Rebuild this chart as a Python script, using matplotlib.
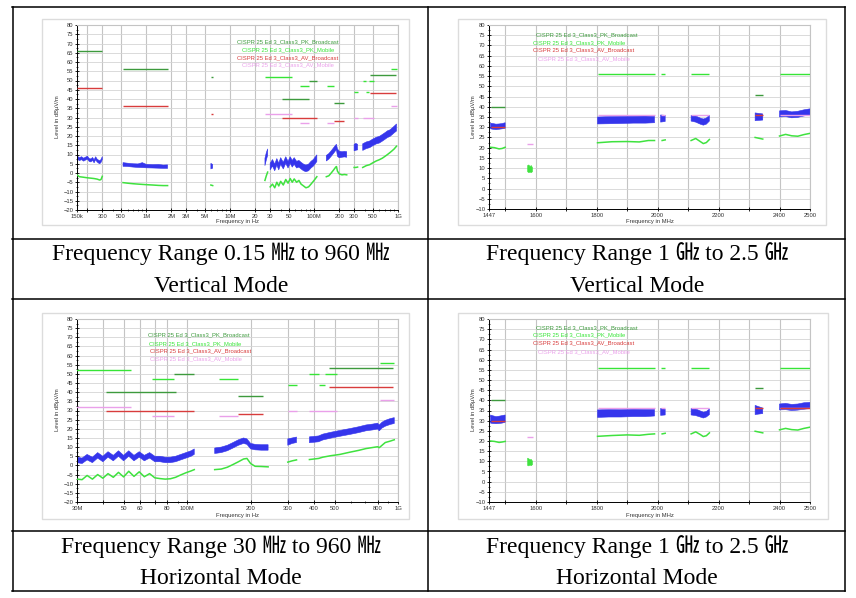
import numpy as np
import matplotlib
matplotlib.use('Agg')
from matplotlib import pyplot as plt
from matplotlib.patches import Rectangle
from matplotlib.lines import Line2D
from matplotlib.ticker import FixedLocator, NullFormatter, MultipleLocator

nan = np.nan

# ---- limit lines, 0.15 MHz - 1 GHz (MHz, dBuV/m)
lo_pkb_start = [0.15, 0.53, 5.9, 41, 87, 174, 470]
lo_pkb_stop = [0.30, 1.8, 6.2, 88, 108, 230, 944]
lo_pkb_level = [66, 56, 52, 40, 50, 38, 53]
lo_pkm_start = [26, 68, 142, 300, 380, 420, 450, 820]
lo_pkm_stop = [54, 87, 175, 330, 420, 450, 512, 960]
lo_pkm_level = [52, 47, 47, 44, 50, 44, 50, 56]
lo_avb_start = [0.15, 0.53, 5.9, 41, 174, 470]
lo_avb_stop = [0.30, 1.8, 6.2, 108, 230, 944]
lo_avb_level = [46, 36, 32, 30, 28, 43]
lo_avm_start = [26, 68, 142, 300, 380, 820]
lo_avm_stop = [54, 87, 175, 330, 512, 960]
lo_avm_level = [32, 27, 27, 30, 30, 36]

# ---- limit lines, 1 GHz - 2.5 GHz
hi_pkb_start = [1452, 2320]
hi_pkb_stop = [1500, 2345]
hi_pkb_level = [40, 46]
hi_pkm_start = [1803, 2010, 2110, 2400]
hi_pkm_stop = [1990, 2025, 2170, 2500]
hi_pkm_level = [56, 56, 56, 56]
hi_avb_start = [1452, 2320]
hi_avb_stop = [1500, 2345]
hi_avb_level = [30, 36]
hi_avb_start_h = [1452, 2320, 2400]
hi_avb_stop_h = [1500, 2345, 2500]
hi_avb_level_h = [30, 36, 36]
hi_avm_start = [1572, 1803, 2010, 2110, 2400]
hi_avm_stop = [1590, 1990, 2025, 2170, 2500]
hi_avm_level = [22, 36, 36, 36, 36]

# ---- 0.15 - 960 MHz vertical: peak band (blue) and average (green)
v1_pk_f = [0.15, 0.16, 0.17, 0.18, 0.19, 0.20, 0.21, 0.22, 0.23, 0.24, 0.25, 0.26, 0.27, 0.28, 0.29, 0.30, nan,
           0.53, 0.6, 0.7, 0.8, 0.9, 1.0, 1.2, 1.4, 1.6, 1.8, nan,
           5.9, 6.2, nan,
           26, 27, 28, nan,
           30, 32, 34, 36, 38, 40, 43, 46, 49, 52, 55, 58, 62, 66, 70, 75, 80, 86, 92, 98, 104, 108, nan,
           140, 150, 160, 170, 180, 185, 190, 200, 215, 230, 245, nan,
           300, 315, 330, nan,
           380, 420, 460, 500, 550, 600, 650, 700, 750, 800, 850, 900, 960]
v1_pk_hi = [9.3, 8.3, 8.8, 8.0, 8.6, 9.1, 7.8, 7.6, 8.4, 7.1, 8.8, 7.6, 7.0, 6.6, 7.3, 8.8, nan,
            5.6, 5.3, 5.0, 4.9, 5.6, 4.7, 4.5, 4.6, 4.3, 4.4, nan,
            5.2, 4.6, nan,
            8, 11, 13, nan,
            5.3, 7.3, 4.8, 7.8, 5.3, 8.3, 5.8, 8.8, 6.3, 8.8, 6.8, 8.3, 6.3, 6.8, 5.8, 4.8, 4.3, 4.8, 6.3, 7.3, 8.8, 9.8, nan,
            9.5, 10.5, 12, 13.5, 15, 15.5, 13, 11.8, 11.5, 11.7, 11.5, nan,
            15.5, 16, 15.5, nan,
            15.8, 16.8, 17.3, 18.3, 19.3, 19.8, 20.8, 21.8, 22.8, 23.3, 24.3, 25.3, 26.5]
v1_pk_lo = [7.7, 6.7, 7.2, 6.4, 7.0, 7.5, 6.2, 6.0, 6.8, 5.5, 7.2, 6.0, 5.4, 5.0, 5.7, 7.2, nan,
            3.6, 3.5, 3.2, 3.0, 2.9, 2.8, 2.7, 2.6, 2.5, 2.5, nan,
            2.2, 2.6, nan,
            4, 7, 9.5, nan,
            1.7, 3.7, 1.2, 4.2, 1.7, 4.7, 2.2, 5.2, 2.7, 5.2, 3.2, 4.7, 2.7, 3.2, 2.2, 1.2, 0.7, 1.2, 2.7, 3.7, 5.2, 6.2, nan,
            6.5, 7.5, 9, 10.5, 12, 12.5, 9, 8.2, 8.5, 8.7, 8.5, nan,
            12, 12.3, 12.5, nan,
            12.2, 13.2, 13.7, 14.7, 15.7, 16.2, 17.2, 18.2, 19.2, 19.7, 20.7, 21.7, 22.7]
v1_av_f = [0.15, 0.16, 0.18, 0.20, 0.22, 0.24, 0.26, 0.28, 0.29, 0.30, nan,
           0.53, 0.6, 0.7, 0.8, 1.0, 1.2, 1.4, 1.6, 1.8, nan,
           5.9, 6.2, nan,
           26, 27, 28, nan,
           30, 32, 34, 36, 38, 40, 43, 46, 49, 52, 55, 58, 62, 66, 70, 75, 80, 86, 92, 98, 104, 108, nan,
           140, 150, 160, 170, 180, 185, 190, 200, 215, 230, 245, nan,
           300, 315, 330, nan,
           380, 420, 460, 500, 550, 600, 650, 700, 750, 800, 850, 900, 960]
v1_av = [-1, -2, -2.3, -2.6, -2.8, -3, -3.3, -3.8, -3.5, -1.8, nan,
         -5.2, -5.5, -5.8, -6.0, -6.3, -6.5, -6.7, -6.8, -6.8, nan,
         -6.5, -6.8, nan,
         -4, -1.5, 0.5, nan,
         -7.5, -6, -8, -5, -7, -4.5, -6.5, -3.5, -5.5, -3, -5, -3.2, -5, -4, -6, -7, -8, -7.5, -6, -4.5, -3, -2, nan,
         -2, -1.5, 0, 1.5, 3, 3.5, 1, -0.5, -1, -0.8, -1, nan,
         3, 3, 3.2, nan,
         3, 4, 4.5, 5.5, 6.5, 7.2, 8, 9, 10, 11, 12, 13, 14.5]

# ---- 30 - 960 MHz horizontal
h3_pk_f = [30, 31.7, 33.5, 35.5, 37.6, 39.8, 42.1, 44.6, 47.2, 49.9, 52.8, 55.9, 59.2, 62.6, 66.3, 70.2, 74.3,
           78.6, 83.2, 88.1, 93.2, 98.7, 104.4, 108, nan,
           135, 145, 155, 165, 175, 185, 192, 200, 210, 225, 242, nan,
           300, 315, 330, nan,
           380, 420, 440, 480, 530, 590, 650, 705, 760, 800, 815, 840, 870, 920, 960]
h3_pk_hi = [4.5, 4, 6, 4.5, 7, 5, 7.5, 5.5, 8, 5.5, 8, 5.5, 7.5, 5.5, 7, 5, 5, 4.5, 4.5, 5, 6, 7, 8, 9, nan,
            9.5, 10, 11, 12.5, 14, 15, 14.5, 12, 11.5, 11.3, 11.3, nan,
            14.5, 15, 15.5, nan,
            15.6, 16.1, 17.1, 18.1, 19.1, 20.1, 21.1, 22.1, 22.6, 23.1, 22.1, 23.6, 24.6, 25.6, 26.1]
h3_pk_lo = [1.5, 1, 3, 1.5, 4, 2, 4.5, 2.5, 5, 2.5, 5, 2.5, 4.5, 2.5, 4, 2, 2, 1.5, 1.5, 2, 3, 4, 5, 6, nan,
            6.5, 7, 8, 9.5, 11, 12, 11.5, 9, 8.5, 8.3, 8.3, nan,
            11, 12, 12.5, nan,
            12.4, 12.9, 13.9, 14.9, 15.9, 16.9, 17.9, 18.9, 19.4, 19.9, 18.9, 20.4, 21.4, 22.4, 22.9]
h3_av_f = h3_pk_f
h3_av = [-7.5, -7.8, -5.5, -7.5, -5, -7, -4.5, -6.5, -3.8, -6.3, -3.2, -6, -3.5, -6.2, -4.5, -6.8, -7.2, -7.5,
         -7.3, -6.5, -5.2, -4, -3, -2.3, nan,
         -2.3, -2, -1, 0.5, 2, 3.5, 3.8, 1, -0.5, -0.6, -0.8, nan,
         1.8, 2.5, 3, nan,
         3.2, 3.8, 4.5, 5.3, 6, 7.2, 8.2, 9.2, 9.8, 10.2, 9.7, 11, 12.5, 13.3, 14]

# ---- 1 - 2.5 GHz, vertical (v2) and horizontal (h4)
g_pk_f = [1452, 1460, 1470, 1480, 1490, 1500, nan, 1803, 1840, 1880, 1920, 1960, 1990, nan, 2010, 2025, nan,
          2110, 2125, 2140, 2150, 2160, 2170, nan, 2320, 2345, nan, 2400, 2420, 2440, 2460, 2480, 2500]
v2_pk_hi = [32, 31.8, 31.5, 31.6, 31.8, 32.2, nan, 35, 35.2, 35.3, 35.4, 35.5, 35.3, nan, 36, 35.8, nan,
            35.8, 35.5, 34.5, 34, 34.5, 35.8, nan, 37, 36.5, nan, 38, 38.2, 37.5, 37.8, 38.5, 39]
v2_pk_lo = [29.2, 29, 28.8, 29, 29.2, 29.5, nan, 31.6, 31.7, 31.8, 32, 32, 32.2, nan, 32.5, 32.8, nan,
            33, 32.5, 31.5, 31, 31.5, 33, nan, 33.2, 33.5, nan, 35, 35.2, 34.6, 34.8, 35.5, 36]
h4_pk_hi = [32.8, 32.4, 32, 32.2, 32.5, 32.8, nan, 35.3, 35.5, 35.4, 35.6, 35.5, 35.5, nan, 36, 35.6, nan,
            36, 35.8, 34.8, 34.2, 34.5, 35.8, nan, 37.5, 36.2, nan, 38.2, 38.5, 38, 38.2, 38.8, 39]
h4_pk_lo = [28.8, 28.6, 28.5, 28.6, 28.8, 29.2, nan, 31.6, 31.8, 31.8, 32, 32, 32.3, nan, 32.6, 32.8, nan,
            32.8, 32.5, 31.8, 31.3, 31.8, 33, nan, 33, 33.5, nan, 35.3, 35.4, 35, 35.2, 35.6, 36]
g_av_f = [1452, 1465, 1480, 1490, 1500, nan, 1803, 1850, 1900, 1940, 1970, 1990, nan, 2015, 2025, nan,
          2110, 2125, 2140, 2150, 2160, 2170, nan, 2320, 2345, nan, 2400, 2420, 2440, 2460, 2480, 2500]
v2_av = [20.2, 20, 19.4, 19.6, 20.2, nan, 22.4, 22.9, 23, 22.8, 23.5, 23.5, nan, 23.5, 23.8, nan,
         23.5, 24.5, 23, 22, 22.5, 24, nan, 25, 24.2, nan, 25.7, 26.5, 25.8, 25.6, 26.4, 27]
h4_av = [20, 19.8, 19.3, 19.5, 19.8, nan, 22.3, 22.7, 23, 22.8, 23.3, 23.5, nan, 23.5, 23.8, nan,
         23.5, 24.5, 23.2, 22.2, 22.6, 24, nan, 24.8, 24, nan, 25.5, 26.2, 25.6, 25.4, 26.2, 26.8]
gps_f = [1572, 1576, 1580, 1584, 1588]
v2_gps_lo = [8.5, 8, 8.3, 8, 8.5]
v2_gps_hi = [11.5, 11.8, 11, 11.5, 10.5]
h4_gps_lo = [8.2, 8, 8.4, 8.1, 8.6]
h4_gps_hi = [11.8, 11.5, 11, 11.2, 10.3]

legend_txt = ["CISPR 25 Ed 3_Class3_PK_Broadcast", "CISPR 25 Ed 3_Class3_PK_Mobile",
              "CISPR 25 Ed 3_Class3_AV_Broadcast", "CISPR 25 Ed 3_Class3_AV_Mobile"]
captions = [("Frequency Range 0.15 ㎒ to 960 ㎒", "Vertical Mode"),
            ("Frequency Range 1 ㎓ to 2.5 ㎓", "Vertical Mode"),
            ("Frequency Range 30 ㎒ to 960 ㎒", "Horizontal Mode"),
            ("Frequency Range 1 ㎓ to 2.5 ㎓", "Horizontal Mode")]

c_pkb = '#3d9a3d'
c_pkm = '#36e536'
c_avb = '#d83c3c'
c_avm = '#eaa0ea'
c_blue = '#3535ec'
c_green = '#3fe23f'
small = dict(family='Liberation Sans', fontsize=4.2, color='#333333')

W, H = 856, 598
fig = plt.figure(figsize=(W / 100, H / 100), dpi=100)


def box(x0, y0, x1, y1):
    return [x0 / W, 1 - y1 / H, (x1 - x0) / W, (y1 - y0) / H]


def fline(xs, ys, **kw):
    fig.add_artist(Line2D([x / W for x in xs], [1 - y / H for y in ys], transform=fig.transFigure, **kw))


def ftext(x, y, s, **kw):
    fig.text(x / W, 1 - y / H, s, **kw)


# table frame
for y in [7, 239, 299, 531, 591]:
    fline([12, 845], [y, y], color='black', lw=1.1)
for x in [13, 428, 845]:
    fline([x, x], [7, 591], color='black', lw=1.1)

# chart panels
for (x0, y0, x1, y1) in [(42, 19, 409, 225), (458, 19, 826, 225), (42, 313, 409, 519), (458, 313, 828, 519)]:
    fig.add_artist(Rectangle((x0 / W, 1 - y1 / H), (x1 - x0) / W, (y1 - y0) / H, transform=fig.transFigure,
                             fill=False, edgecolor='#dcdcdc', lw=1))


def setup(ax, ymin, xticks, xlabels, log):
    if log:
        ax.set_xscale('log')
    ax.set_ylim(ymin, 80)
    ax.set_yticks(range(ymin, 81, 5))
    ax.yaxis.set_minor_locator(MultipleLocator(2.5))
    ax.xaxis.set_major_locator(FixedLocator(xticks))
    ax.set_xticklabels(xlabels)
    ax.xaxis.set_minor_formatter(NullFormatter())
    ax.grid(axis='y', which='major', color='#d4d4d4', lw=0.6)
    ax.grid(axis='x', which='major', color='#c4c4c4', lw=0.8)
    ax.tick_params(which='major', direction='inout', length=3, width=0.6, pad=1.2, labelsize=4.2,
                   labelcolor='#333333')
    ax.tick_params(which='minor', direction='inout', length=1.6, width=0.5)
    for lab in ax.get_xticklabels() + ax.get_yticklabels():
        lab.set_family('Liberation Sans')
    for s in ['top', 'right']:
        ax.spines[s].set_color('#c4c4c4')
    for s in ['left', 'bottom']:
        ax.spines[s].set_linewidth(0.7)
    ax.set_axisbelow(True)


def limits(ax, sets):
    for st, sp, lv, col in sets:
        ax.hlines(lv, st, sp, colors=col, lw=1.0, zorder=4)


def legend(xs, ys, ha):
    for x, y, s, col in zip(xs, ys, legend_txt, [c_pkb, c_pkm, c_avb, c_avm]):
        ftext(x, y, s, ha=ha, va='center', family='Liberation Sans', fontsize=4.2, color=col)


def labels(cx, ylab_x, cy, xlab_y, xlab):
    ftext(cx, xlab_y, xlab, ha='center', va='center', **small)
    ftext(ylab_x, cy, "Level in dBµV/m", ha='center', va='center', rotation=90, **small)


low_limits = [(lo_avm_start, lo_avm_stop, lo_avm_level, c_avm), (lo_avb_start, lo_avb_stop, lo_avb_level, c_avb),
              (lo_pkm_start, lo_pkm_stop, lo_pkm_level, c_pkm), (lo_pkb_start, lo_pkb_stop, lo_pkb_level, c_pkb)]
ghz_ticks = [1447, 1500, 1600, 1700, 1800, 1900, 2000, 2100, 2200, 2300, 2400, 2500]
ghz_labels = ['1447', '', '1600', '', '1800', '', '2000', '', '2200', '', '2400', '2500']

# ---- chart 1: 0.15 - 1000 MHz vertical
ax1 = fig.add_axes(box(77, 25, 398, 210))
setup(ax1, -20,
      [0.15, 0.2, 0.3, 0.5, 1, 2, 3, 5, 10, 20, 30, 50, 100, 200, 300, 500, 1000],
      ['150k', '', '300', '500', '1M', '2M', '3M', '5M', '10M', '20', '30', '50', '100M', '200', '300', '500', '1G'],
      True)
ax1.set_xlim(0.15, 1000)
ax1.fill_between(v1_pk_f, v1_pk_lo, v1_pk_hi, color=c_blue, lw=0.4, zorder=2)
ax1.plot(v1_av_f, v1_av, color=c_green, lw=1.1, zorder=3)
limits(ax1, low_limits)
legend([288] * 4, [42, 50, 57.5, 65], 'center')
labels(237, 58, 117, 222, "Frequency in Hz")

# ---- chart 2: 1447 - 2500 MHz vertical
ax2 = fig.add_axes(box(489, 25, 810, 209))
setup(ax2, -10, ghz_ticks, ghz_labels, False)
ax2.set_xlim(1447, 2500)
ax2.fill_between(g_pk_f, v2_pk_lo, v2_pk_hi, color=c_blue, lw=0.4, zorder=2)
ax2.plot(g_av_f, v2_av, color=c_green, lw=1.1, zorder=3)
ax2.fill_between(gps_f, v2_gps_lo, v2_gps_hi, color=c_green, lw=0.4, zorder=3)
limits(ax2, [(hi_avm_start, hi_avm_stop, hi_avm_level, c_avm), (hi_avb_start, hi_avb_stop, hi_avb_level, c_avb),
             (hi_pkm_start, hi_pkm_stop, hi_pkm_level, c_pkm), (hi_pkb_start, hi_pkb_stop, hi_pkb_level, c_pkb)])
legend([536, 533, 533, 538], [35, 42.5, 50, 59], 'left')
labels(650, 473, 117, 222, "Frequency in MHz")

# ---- chart 3: 30 - 1000 MHz horizontal
ax3 = fig.add_axes(box(77, 319, 398, 502))
setup(ax3, -20, [30, 40, 50, 60, 70, 80, 100, 200, 300, 400, 500, 800, 1000],
      ['30M', '', '50', '60', '', '80', '100M', '200', '300', '400', '500', '800', '1G'], True)
ax3.set_xlim(30, 1000)
ax3.fill_between(h3_pk_f, h3_pk_lo, h3_pk_hi, color=c_blue, lw=0.4, zorder=2)
ax3.plot(h3_av_f, h3_av, color=c_green, lw=1.1, zorder=3)
limits(ax3, low_limits)
legend([148, 149, 150, 150], [335, 343.5, 351, 358.5], 'left')
labels(237, 58, 410, 516, "Frequency in Hz")

# ---- chart 4: 1447 - 2500 MHz horizontal
ax4 = fig.add_axes(box(489, 319, 810, 502))
setup(ax4, -10, ghz_ticks, ghz_labels, False)
ax4.set_xlim(1447, 2500)
ax4.fill_between(g_pk_f, h4_pk_lo, h4_pk_hi, color=c_blue, lw=0.4, zorder=2)
ax4.plot(g_av_f, h4_av, color=c_green, lw=1.1, zorder=3)
ax4.fill_between(gps_f, h4_gps_lo, h4_gps_hi, color=c_green, lw=0.4, zorder=3)
limits(ax4, [(hi_avm_start, hi_avm_stop, hi_avm_level, c_avm),
             (hi_avb_start_h, hi_avb_stop_h, hi_avb_level_h, c_avb),
             (hi_pkm_start, hi_pkm_stop, hi_pkm_level, c_pkm), (hi_pkb_start, hi_pkb_stop, hi_pkb_level, c_pkb)])
legend([536, 533, 533, 538], [328, 335, 343, 352], 'left')
labels(650, 473, 410, 516, "Frequency in MHz")

# captions
cap_font = ['Liberation Serif', 'Noto Sans CJK KR']
for (l1, l2), (cx, y1, y2) in zip(captions, [(221, 254, 286), (637, 254, 286), (221, 547, 579), (637, 547, 579)]):
    ftext(cx, y1, l1, ha='center', va='center', family=cap_font, fontsize=17)
    ftext(cx, y2, l2, ha='center', va='center', family=cap_font, fontsize=17)

fig.savefig('out.png', dpi=100, facecolor='white')
